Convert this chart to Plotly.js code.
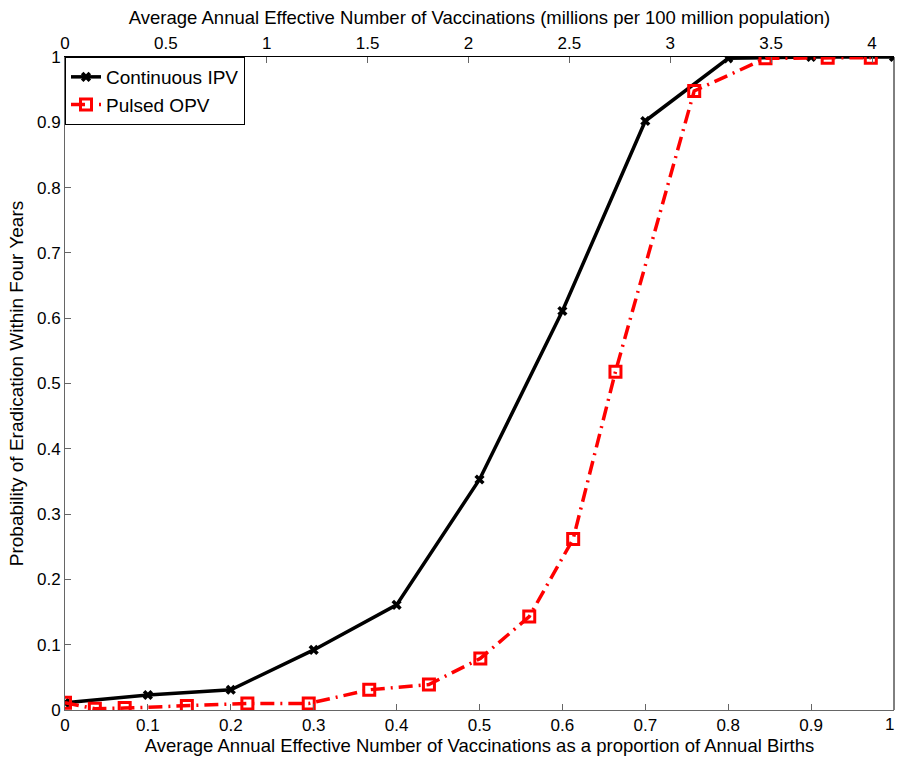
<!DOCTYPE html>
<html><head><meta charset="utf-8">
<script src="https://cdn.plot.ly/plotly-3.0.1.min.js"></script>
<style>body{margin:0;padding:0;background:#fff}#chart{width:897px;height:760px}</style>
</head><body><div id="chart"></div>
<script>
const ipvX = [0, 0.1, 0.2, 0.3, 0.4, 0.5, 0.6, 0.7, 0.8, 0.9, 1.0];
const ipvY = [0.011, 0.023, 0.031, 0.092, 0.161, 0.353, 0.611, 0.902, 0.998, 1.0, 1.0];
const opvX = [0, 0.036, 0.072, 0.147, 0.220, 0.294, 0.367, 0.439, 0.501, 0.560, 0.613, 0.664, 0.759, 0.845, 0.920, 0.972];
const opvY = [0.011, 0.002, 0.003, 0.006, 0.010, 0.010, 0.031, 0.039, 0.079, 0.143, 0.262, 0.518, 0.948, 0.998, 0.999, 0.999];
const topRange = [0, 4.109];
const topTicks = [0, 0.5, 1, 1.5, 2, 2.5, 3, 3.5, 4];
const bottomTicks = [0, 0.1, 0.2, 0.3, 0.4, 0.5, 0.6, 0.7, 0.8, 0.9];

const fam = 'Liberation Sans, Arial, Helvetica, sans-serif';
const traces = [
  {x: ipvX, y: ipvY, name: 'Continuous IPV', mode: 'lines+markers', type: 'scatter',
   line: {color: '#000', width: 3.5},
   marker: {symbol: 'x', size: 9, color: '#000', line: {width: 0}}},
  {x: opvX, y: opvY, name: 'Pulsed OPV', mode: 'lines+markers', type: 'scatter',
   line: {color: '#ff0000', width: 3.5, dash: '14px,6px,2px,6px'},
   marker: {symbol: 'square-open', size: 11, color: '#ff0000', line: {width: 3, color: '#ff0000'}}},
  {x: [], y: [], xaxis: 'x2', yaxis: 'y', showlegend: false, type: 'scatter'}
];
const layout = {
  width: 897, height: 760,
  margin: {l: 65, r: 3, t: 57, b: 50},
  paper_bgcolor: '#fff', plot_bgcolor: '#fff',
  font: {family: fam, size: 17, color: '#000'},
  showlegend: true,
  legend: {x: 0, y: 1, xanchor: 'left', yanchor: 'top', bgcolor: '#fff', bordercolor: '#000', borderwidth: 1,
           font: {family: fam, size: 19, color: '#000'}, tracegroupgap: 0},
  xaxis: {range: [0, 1], tickvals: bottomTicks, ticks: 'inside', ticklen: 6, tickcolor: '#666',
          showline: true, linecolor: '#666', linewidth: 1, mirror: false, showgrid: false, zeroline: false,
          tickfont: {size: 17}, title: {text: 'Average Annual Effective Number of Vaccinations as a proportion of Annual Births', font: {size: 18.5}, standoff: 0}},
  xaxis2: {overlaying: 'x', side: 'top', range: topRange, tickvals: topTicks, ticks: 'inside', ticklen: 6, tickcolor: '#666',
           showline: true, linecolor: '#000', linewidth: 1, showgrid: false, zeroline: false,
           tickfont: {size: 17}, title: {text: 'Average Annual Effective Number of Vaccinations (millions per 100 million population)', font: {size: 18.5}, standoff: 4}},
  yaxis: {range: [0, 1], dtick: 0.1, tick0: 0, ticks: 'inside', ticklen: 6, tickcolor: '#666',
          showline: true, linecolor: '#666', linewidth: 1, mirror: false, showgrid: false, zeroline: false,
          tickfont: {size: 17}, title: {text: 'Probability of Eradication Within Four Years', font: {size: 19}, standoff: 8}},
  shapes: [{type: 'line', xref: 'paper', yref: 'paper', x0: 1, x1: 1, y0: 0, y1: 1, line: {color: '#000', width: 1}}],
  annotations: [{text: '1', xref: 'x', yref: 'paper', x: 1, y: 0, xanchor: 'right', yanchor: 'top', yshift: -3, xshift: 2,
                 showarrow: false, font: {family: fam, size: 17, color: '#000'}}]
};
Plotly.newPlot('chart', traces, layout, {displayModeBar: false, staticPlot: true});
</script>
</body></html>
